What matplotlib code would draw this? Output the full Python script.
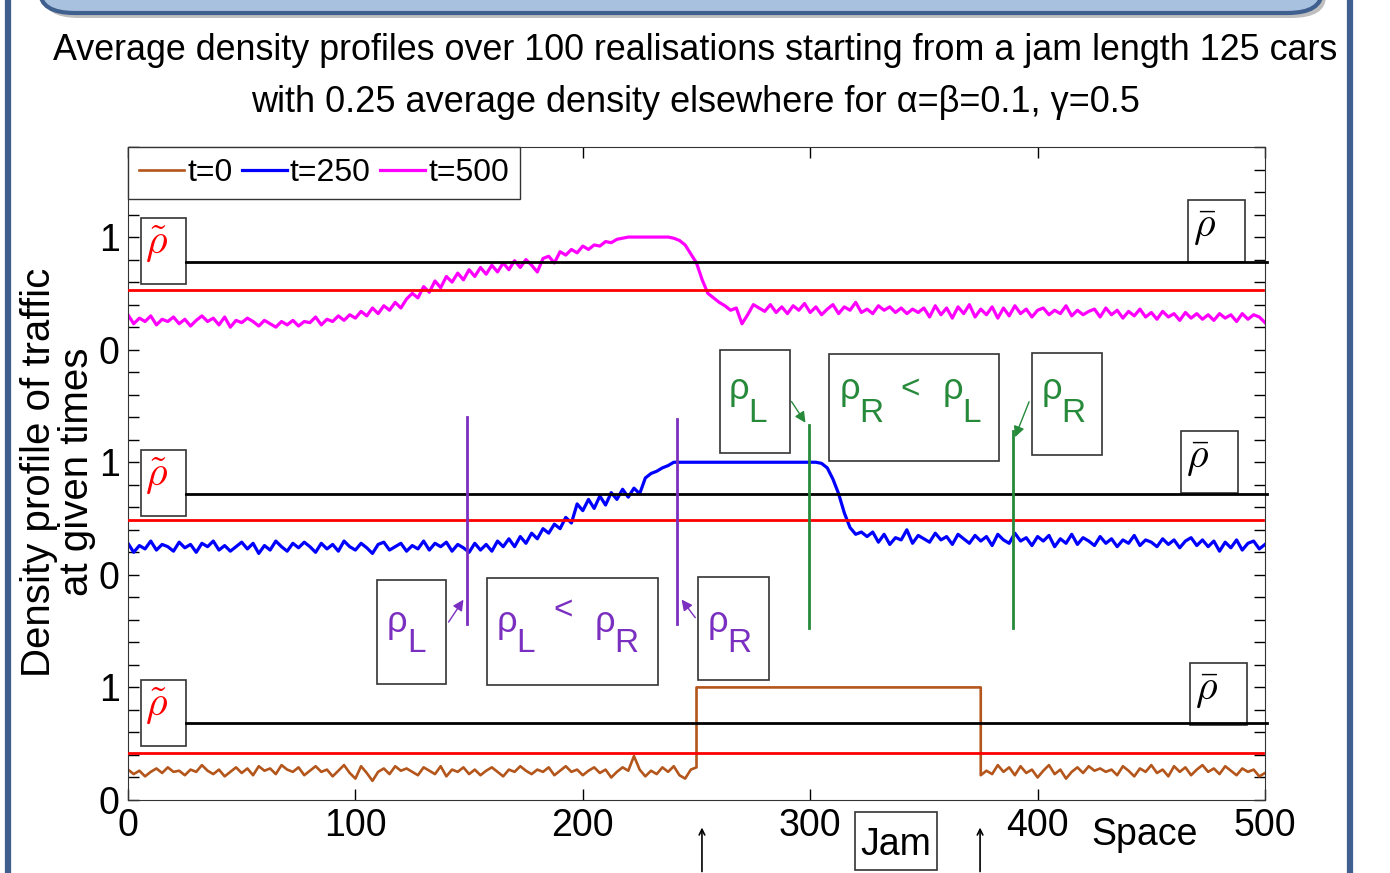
import matplotlib
matplotlib.use('Agg')
import matplotlib.pyplot as plt
from matplotlib.patches import Rectangle, FancyBboxPatch
import numpy as np

plt.rcParams['font.family'] = ['Liberation Sans', 'DejaVu Sans']
plt.rcParams['mathtext.fontset'] = 'cm'

# ---- profiles (space step 2.5) ----
# t=0 : flat jam between 250 and 375
x_t0 = np.concatenate([np.arange(0, 250.1, 2.5), [250, 375], np.arange(375, 500.1, 2.5)])
y_t0_left = [0.27, 0.23, 0.26, 0.21, 0.25, 0.28, 0.24, 0.29, 0.25, 0.26,
             0.22, 0.27, 0.25, 0.31, 0.26, 0.23, 0.27, 0.21, 0.25, 0.29,
             0.24, 0.28, 0.22, 0.30, 0.26, 0.28, 0.23, 0.31, 0.27, 0.25,
             0.29, 0.22, 0.26, 0.30, 0.25, 0.27, 0.21, 0.26, 0.31, 0.24,
             0.19, 0.30, 0.24, 0.17, 0.25, 0.28, 0.23, 0.30, 0.26, 0.28,
             0.25, 0.22, 0.29, 0.26, 0.23, 0.30, 0.21, 0.27, 0.25, 0.29,
             0.23, 0.27, 0.22, 0.26, 0.29, 0.25, 0.21, 0.27, 0.25, 0.30,
             0.26, 0.23, 0.27, 0.25, 0.29, 0.22, 0.26, 0.30, 0.25, 0.27,
             0.22, 0.26, 0.29, 0.24, 0.27, 0.20, 0.25, 0.29, 0.26, 0.39,
             0.27, 0.21, 0.26, 0.23, 0.29, 0.25, 0.30, 0.22, 0.19, 0.27,
             0.29]
y_t0_jam = [1.0, 1.0]
y_t0_right = [0.22, 0.26, 0.23, 0.31, 0.25, 0.29, 0.22, 0.30, 0.24, 0.27,
              0.20, 0.26, 0.31, 0.23, 0.27, 0.19, 0.25, 0.29, 0.24, 0.30,
              0.26, 0.28, 0.25, 0.27, 0.22, 0.30, 0.26, 0.21, 0.28, 0.25,
              0.31, 0.24, 0.27, 0.21, 0.30, 0.25, 0.29, 0.22, 0.27, 0.31,
              0.25, 0.28, 0.23, 0.30, 0.26, 0.22, 0.28, 0.25, 0.27, 0.21,
              0.24]

# t=250 : saturated plateau from 240 to 302.5
x_t250 = np.concatenate([np.arange(0, 240.1, 2.5), np.arange(302.5, 500.1, 2.5)])
y_t250_left = [0.28, 0.20, 0.26, 0.23, 0.30, 0.22, 0.27, 0.25, 0.21, 0.29,
               0.24, 0.27, 0.20, 0.28, 0.25, 0.30, 0.22, 0.26, 0.21, 0.25,
               0.29, 0.23, 0.28, 0.19, 0.26, 0.22, 0.30, 0.25, 0.21, 0.28,
               0.24, 0.29, 0.25, 0.20, 0.28, 0.23, 0.27, 0.21, 0.30, 0.25,
               0.22, 0.28, 0.24, 0.19, 0.27, 0.29, 0.22, 0.25, 0.28, 0.21,
               0.26, 0.23, 0.30, 0.22, 0.28, 0.25, 0.29, 0.21, 0.27, 0.24,
               0.20, 0.28, 0.22,
               0.27, 0.21, 0.30, 0.25, 0.32, 0.25, 0.34, 0.28, 0.37, 0.32,
               0.41, 0.37, 0.45, 0.41, 0.51, 0.46, 0.63, 0.57, 0.67, 0.59,
               0.70, 0.62, 0.73, 0.67, 0.76, 0.69, 0.77, 0.72, 0.86, 0.90,
               0.92, 0.95, 0.97, 1.0]
y_t250_right = [1.0, 0.99, 0.95, 0.85, 0.72, 0.55, 0.42, 0.36, 0.38, 0.34,
                0.38, 0.29, 0.36, 0.27, 0.33, 0.31, 0.40, 0.28, 0.35, 0.32,
                0.29, 0.37, 0.31, 0.34, 0.27, 0.36, 0.32, 0.28, 0.35, 0.30,
                0.34, 0.26, 0.36, 0.31, 0.28, 0.37, 0.30, 0.33, 0.26, 0.34,
                0.30, 0.35, 0.25, 0.32, 0.28, 0.36, 0.27, 0.33, 0.30, 0.26,
                0.34, 0.28, 0.32, 0.25, 0.31, 0.28, 0.35, 0.26, 0.31, 0.29,
                0.25, 0.32, 0.27, 0.31, 0.24, 0.30, 0.33, 0.26, 0.31, 0.25,
                0.30, 0.21, 0.29, 0.24, 0.31, 0.22, 0.28, 0.30, 0.23, 0.27]

# t=500
x_t500 = np.arange(0, 500.1, 2.5)
y_t500 = [0.31, 0.23, 0.28, 0.25, 0.30, 0.22, 0.27, 0.25, 0.29, 0.23,
          0.27, 0.21, 0.26, 0.30, 0.25, 0.28, 0.22, 0.29, 0.20, 0.26,
          0.24, 0.28, 0.25, 0.21, 0.26, 0.23, 0.20, 0.25, 0.22, 0.26,
          0.21, 0.25, 0.24, 0.29, 0.22, 0.27, 0.25, 0.30, 0.26, 0.31,
          0.28, 0.34, 0.30, 0.37, 0.32, 0.39, 0.35, 0.42, 0.37, 0.45,
          0.50, 0.46, 0.56, 0.51, 0.61, 0.55, 0.65, 0.60, 0.68, 0.62,
          0.71, 0.65, 0.73, 0.67, 0.75, 0.69, 0.77, 0.71, 0.79, 0.73,
          0.80, 0.75,
          0.69, 0.81, 0.83, 0.77, 0.87, 0.84, 0.89, 0.86, 0.92, 0.89,
          0.93, 0.92, 0.96, 0.95, 0.98, 0.99, 1.0, 1.0, 1.0, 1.0,
          1.0, 1.0, 1.0, 1.0, 0.99,
          0.97, 0.93, 0.85, 0.77, 0.62, 0.50, 0.46, 0.42, 0.39, 0.35,
          0.37, 0.23, 0.31, 0.40,
          0.37, 0.34, 0.40, 0.33, 0.38, 0.32, 0.39, 0.35, 0.41, 0.33,
          0.38, 0.31, 0.36, 0.40, 0.32, 0.38, 0.35, 0.42, 0.33, 0.36,
          0.32, 0.39, 0.35, 0.38, 0.33, 0.37, 0.32, 0.36, 0.33, 0.37,
          0.29, 0.39, 0.31, 0.37, 0.28, 0.38, 0.32, 0.40, 0.29, 0.36,
          0.31, 0.38, 0.28, 0.37, 0.30, 0.39, 0.32, 0.36, 0.29, 0.35,
          0.37, 0.31, 0.35, 0.32, 0.39, 0.30, 0.35, 0.31, 0.34, 0.36,
          0.29, 0.37, 0.31, 0.35, 0.28, 0.34, 0.30, 0.36, 0.29, 0.33,
          0.27, 0.34, 0.29, 0.32, 0.26, 0.33, 0.28, 0.32, 0.27, 0.31,
          0.26, 0.32, 0.28, 0.31, 0.25, 0.32, 0.27, 0.31, 0.29, 0.24]

offsets = [0, 2, 4]                # t=0, t=250, t=500 stacked
rho_bar = [0.68, 0.72, 0.78]
rho_tilde = [0.42, 0.49, 0.53]
brown, blue, magenta = '#B4561B', '#0000FF', '#FF00FF'
purple, green = '#7B2FC0', '#268A3A'

fig = plt.figure(figsize=(13.9, 8.73), dpi=100)

# slide decoration
fig.patches.append(FancyBboxPatch((8 / 1390, -40 / 873), 1342 / 1390, 960 / 873,
                                  boxstyle='round,pad=0,rounding_size=0.03',
                                  transform=fig.transFigure, facecolor='none',
                                  edgecolor='#3F5F8E', lw=4.5, zorder=0))
fig.patches.append(FancyBboxPatch((44 / 1390, 1 - 18 / 873), 1282 / 1390, 60 / 873,
                                  boxstyle='round,pad=0,rounding_size=0.025',
                                  transform=fig.transFigure, facecolor='#BFBFBF',
                                  edgecolor='none', zorder=0))
fig.patches.append(FancyBboxPatch((40 / 1390, 1 - 13 / 873), 1282 / 1390, 60 / 873,
                                  boxstyle='round,pad=0,rounding_size=0.025',
                                  transform=fig.transFigure, facecolor='#A8C1DF',
                                  edgecolor='#3F5F8E', lw=3, zorder=1))

fig.text(0.5, 1 - 50 / 873,
         'Average density profiles over 100 realisations starting from a jam length 125 cars',
         ha='center', va='center', fontsize=25.8)
fig.text(0.5, 1 - 102 / 873,
         'with 0.25 average density elsewhere for α=β=0.1, γ=0.5',
         ha='center', va='center', fontsize=26)
fig.text(58 / 1390, 1 - 472 / 873, 'Density profile of traffic\nat given times',
         rotation=90, ha='center', va='center', fontsize=29, linespacing=1.0,
         multialignment='center')

ax = fig.add_axes([128 / 1390, 73 / 873, 1137 / 1390, 653 / 873])
l0, = ax.plot(x_t0, np.array(y_t0_left + y_t0_jam + y_t0_right) + offsets[0],
              color=brown, lw=1.9, label='t=0')
l1, = ax.plot(x_t250, np.array(y_t250_left + y_t250_right) + offsets[1],
              color=blue, lw=2.3, label='t=250')
l2, = ax.plot(x_t500, np.array(y_t500) + offsets[2], color=magenta, lw=2.3, label='t=500')

# reference levels and their boxes
bar_boxes = [(467, 0.667), (463, 2.729), (466, 4.782)]
for off, rb, rt, (bx, by) in zip(offsets, rho_bar, rho_tilde, bar_boxes):
    ax.plot([25.5, 501], [off + rb, off + rb], color='black', lw=2, zorder=3, clip_on=False)
    ax.plot([0, 499], [off + rt, off + rt], color='red', lw=2, zorder=3)
    ax.add_patch(Rectangle((5.7, off + rb - 0.2), 19.8, 0.59, fill=False,
                           edgecolor='#333333', lw=1.2))
    ax.text(12.5, off + rb + 0.16, r'$\tilde{\rho}$', color='red', fontsize=30,
            ha='center', va='center')
    ax.add_patch(Rectangle((bx, by), 25, 0.55, fill=False, edgecolor='#333333', lw=1.2))
    ax.text(bx + 7.5, by + 0.31, r'$\bar{\rho}$', color='black', fontsize=30,
            ha='center', va='center')

# shock / rarefaction markers
for xv, col, y0, y1 in [(149, purple, 1.56, 3.40), (241.5, purple, 1.56, 3.38),
                        (299.5, green, 1.53, 3.33), (389, green, 1.53, 3.28)]:
    ax.plot([xv, xv], [y0, y1], color=col, lw=2, zorder=4)

box_rects = [((109.5, 1.03), 30.3, 0.92), ((157.9, 1.02), 75.2, 0.95),
             ((250.7, 1.07), 31.2, 0.91), ((260.3, 3.08), 30.8, 0.92),
             ((308.3, 3.01), 74.7, 0.95), ((397.5, 3.06), 30.8, 0.91)]
for (bx, by), bw, bh in box_rects:
    ax.add_patch(Rectangle((bx, by), bw, bh, fill=False, edgecolor='#333333', lw=1.2))

# (x, y, text, size, colour): rho glyphs, subscripts and '<' signs
pieces = [(113.9, 1.493, 'ρ', 26, purple), (122.6, 1.316, 'L', 24, purple),
          (162.3, 1.493, 'ρ', 26, purple), (170.6, 1.316, 'L', 24, purple),
          (186.9, 1.60, '<', 24, purple),
          (205.4, 1.493, 'ρ', 26, purple), (214.0, 1.316, 'R', 24, purple),
          (255.1, 1.493, 'ρ', 26, purple), (263.7, 1.316, 'R', 24, purple),
          (264.0, 3.564, 'ρ', 26, green), (272.8, 3.36, 'L', 24, green),
          (313.1, 3.564, 'ρ', 26, green), (321.4, 3.36, 'R', 24, green),
          (339.5, 3.57, '<', 24, green),
          (358.4, 3.564, 'ρ', 26, green), (366.8, 3.36, 'L', 24, green),
          (401.9, 3.564, 'ρ', 26, green), (410.4, 3.36, 'R', 24, green)]
for tx, ty, txt, sz, col in pieces:
    ax.text(tx, ty, txt, color=col, fontsize=sz, ha='left', va='baseline')

for (x0, y0), (x1, y1), col in [((140.3, 1.56), (148.2, 1.80), purple),
                                ((250.2, 1.60), (242.7, 1.80), purple),
                                ((291.1, 3.56), (298.6, 3.33), green),
                                ((396.7, 3.56), (389.6, 3.20), green)]:
    ax.annotate('', xy=(x1, y1), xytext=(x0, y0),
                arrowprops=dict(arrowstyle='-|>', color=col, lw=1, mutation_scale=16))

# jam markers under the axis
for xv in [252.4, 374.7]:
    ax.annotate('', xy=(xv, -0.22), xytext=(xv, -0.66), annotation_clip=False,
                arrowprops=dict(arrowstyle='->', color='black', lw=1.2))
ax.add_patch(Rectangle((319.7, -0.62), 36.1, 0.51, fill=False, edgecolor='#333333',
                       lw=1.2, clip_on=False))
ax.text(337.7, -0.40, 'Jam', fontsize=27, ha='center', va='center')
ax.text(447, -0.31, 'Space', fontsize=27, ha='center', va='center')

ax.set_xlim(0, 500)
ax.set_ylim(0, 5.8)
ax.set_xticks([0, 100, 200, 300, 400, 500])
ax.set_yticks([0, 1, 2, 3, 4, 5])
ax.set_yticklabels(['0', '1', '0', '1', '0', '1'])
ax.set_yticks(np.arange(0, 5.81, 0.2), minor=True)
ax.tick_params(direction='in', top=True, right=True, length=8, width=1,
               labelsize=27, pad=6)
ax.tick_params(which='minor', direction='in', right=True, length=8, width=1)
for s in ax.spines.values():
    s.set_color('#333333')

ax.legend(handles=[l0, l1, l2], loc='upper left', ncol=3, fontsize=23,
          borderaxespad=0, handlelength=1.4, handletextpad=0.1, columnspacing=0.3,
          borderpad=0.35, fancybox=False, edgecolor='#333333', framealpha=1)

fig.savefig('out.png', dpi=100)
